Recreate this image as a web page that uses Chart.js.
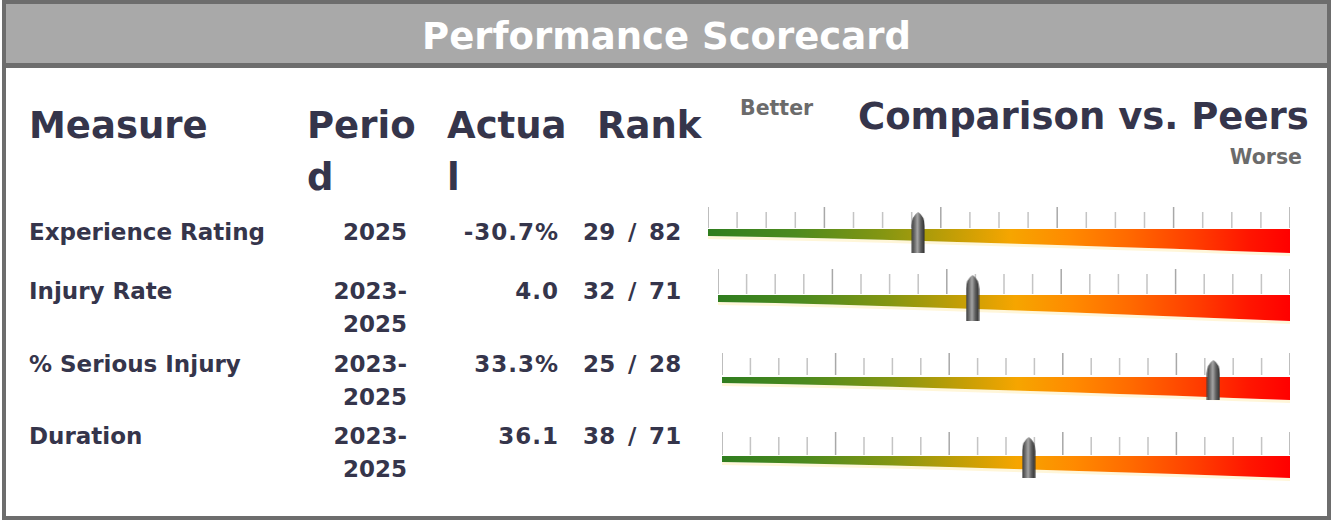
<!DOCTYPE html>
<html>
<head>
<meta charset="utf-8">
<script src="https://cdn.jsdelivr.net/npm/chart.js@4.4.1/dist/chart.umd.min.js"></script>
<style>
  html, body { margin:0; padding:0; background:#fff; width:1333px; height:520px; overflow:hidden; }
  body { font-family: "DejaVu Sans", sans-serif; font-weight:bold; color:#35354b; }
  #frame { position:absolute; left:2px; top:0; width:1321px; height:512px; border:4px solid #6d6d6d; }
  #titlebar { position:absolute; left:0; top:0; width:1321px; height:59px; background:#a9a9a9; border-bottom:5px solid #6d6d6d;
              color:#fff; font-size:37px; text-align:center; line-height:65px; }
  .t { position:absolute; white-space:nowrap; }
  .hdr { font-size:37px; line-height:52px; }
  .cell { font-size:23px; line-height:33px; }
  .num { letter-spacing:1px; }
  .rank { word-spacing:4px; letter-spacing:0.3px; }
  .r { text-align:right; }
  .note { font-size:20.5px; color:#6b6b6b; }
  canvas { position:absolute; }
</style>
</head>
<body>
<div id="frame"><div id="titlebar">Performance Scorecard</div></div>
<div id="page"></div>
<script>
// ---------- data ----------
const title = "Performance Scorecard";
const headers = ["Measure", "Perio\nd", "Actua\nl", "Rank"];
const measures = ["Experience Rating", "Injury Rate", "% Serious Injury", "Duration"];
const periods = ["2025", "2023-\n2025", "2023-\n2025", "2023-\n2025"];
const actuals = ["-30.7%", "4.0", "33.3%", "36.1"];
const ranks = [29, 32, 25, 38];
const peerCounts = [82, 71, 28, 71];
const markerPct = [36.1, 44.5, 86.5, 54.0];          // marker position on the peer gauge (0 = better, 100 = worse)
const tickPct = [0,5,10,15,20,25,30,35,40,45,50,55,60,65,70,75,80,85,90,95,100];
const majorTickPct = [0,20,40,60,80,100];

// ---------- layout (page pixels) ----------
const page = document.getElementById('page');
function addText(txt, cls, style) {
  const d = document.createElement('div');
  d.className = 't ' + cls;
  d.innerHTML = txt.split('\n').join('<br>');
  Object.assign(d.style, style);
  page.appendChild(d);
  return d;
}
addText(headers[0], 'hdr', {left:'29px', top:'100px'});
addText(headers[1], 'hdr', {left:'307px', top:'100px'});
addText(headers[2], 'hdr', {left:'447px', top:'100px'});
addText(headers[3], 'hdr', {left:'597px', top:'100px'});
addText('Comparison vs. Peers', 'hdr', {left:'858px', top:'91px'});
addText('Better', 'note', {left:'740px', top:'96px'});
addText('Worse', 'note r', {right:'31px', top:'145px'});

const rowTops = [216, 275, 348, 420];
rowTops.forEach((top, i) => {
  addText(measures[i], 'cell', {left:'29px', top: top+'px'});
  addText(periods[i], 'cell r', {right:(1333-407)+'px', top: top+'px'});
  addText(actuals[i], 'cell r num', {right:(1333-559)+'px', top: top+'px'});
  addText(ranks[i] + ' / ' + peerCounts[i], 'cell rank', {left:'583px', top: top+'px'});
});

// ---------- gauges ----------
const gauges = [
  {L:708, R:1290, majTop:207, minTop:212, tickBot:228, barTop:229, botL:236, botR:253, mTop:212, mBot:253},
  {L:718, R:1290, majTop:269, minTop:274, tickBot:294, barTop:295, botL:302, botR:321, mTop:275, mBot:321},
  {L:722, R:1290, majTop:353, minTop:358, tickBot:375, barTop:377, botL:383, botR:400, mTop:360, mBot:400},
  {L:722, R:1290, majTop:432, minTop:437, tickBot:455, barTop:456, botL:462, botR:478, mTop:437, mBot:478},
];
const profileX = [0,10,20,30,40,50,60,70,80,90,100];

function makeBullet(w, h) {
  const c = document.createElement('canvas');
  c.width = w; c.height = h;
  const g = c.getContext('2d');
  const grad = g.createLinearGradient(0, 0, w, 0);
  grad.addColorStop(0, '#333');
  grad.addColorStop(0.3, '#7a7a7a');
  grad.addColorStop(0.45, '#a6a6a6');
  grad.addColorStop(0.7, '#5c5c5c');
  grad.addColorStop(1, '#2a2a2a');
  g.fillStyle = grad;
  g.beginPath();
  g.moveTo(0.5, h);
  g.lineTo(0.5, 14);
  g.quadraticCurveTo(0.5, 4, w/2, 0);
  g.quadraticCurveTo(w-0.5, 4, w-0.5, 14);
  g.lineTo(w-0.5, h);
  g.closePath();
  g.fill();
  return c;
}

function barGradient(chart) {
  const a = chart.chartArea;
  if (!a) return '#f80';
  const g = chart.ctx.createLinearGradient(a.left, 0, a.right, 0);
  g.addColorStop(0.00, '#2f7d1f');
  g.addColorStop(0.15, '#4d8a1e');
  g.addColorStop(0.30, '#849612');
  g.addColorStop(0.42, '#c29e06');
  g.addColorStop(0.52, '#f6a500');
  g.addColorStop(0.62, '#ff8a00');
  g.addColorStop(0.72, '#ff6a00');
  g.addColorStop(0.84, '#ff3c00');
  g.addColorStop(0.93, '#ff1500');
  g.addColorStop(1.00, '#ff0000');
  return g;
}

gauges.forEach((gg, i) => {
  const cTop = gg.majTop - 8;
  const cH = gg.mBot - cTop + 6;
  const pad = 4;
  const cv = document.createElement('canvas');
  cv.width = gg.R - gg.L + 2*pad;
  cv.height = cH;
  cv.style.left = (gg.L - pad) + 'px';
  cv.style.top = cTop + 'px';
  cv.style.width = cv.width + 'px';
  cv.style.height = cH + 'px';
  page.appendChild(cv);

  const y = v => v - cTop;
  const thick = x => (gg.botL - gg.barTop) + (gg.botR - gg.botL) * Math.pow(x/100, 1.25);

  const topLine = profileX.map(x => ({x, y: y(gg.barTop)}));
  const botLine = profileX.map(x => ({x, y: y(gg.barTop) + thick(x)}));
  const fadeLine = profileX.map(x => ({x, y: y(gg.barTop) + thick(x) + 3}));

  const tickData = (list, topV) => {
    const out = [];
    list.forEach(p => { out.push({x:p, y:y(topV)}, {x:p, y:y(gg.tickBot)}, {x:p, y:null}); });
    return out;
  };
  const minors = tickPct.filter(p => !majorTickPct.includes(p));

  new Chart(cv, {
    type: 'line',
    data: {
      datasets: [
        { data: fadeLine, borderWidth:0, pointRadius:0, fill:'+1', backgroundColor:'rgba(255,236,170,0.45)', order:5 },
        { data: botLine, borderWidth:0, pointRadius:0, fill:false, order:4 },
        { data: topLine, borderWidth:0, pointRadius:0, fill:'-1', backgroundColor: ctx => barGradient(ctx.chart), order:3 },
        { data: tickData(minors, gg.minTop), borderColor:'#c4c4c4', borderWidth:1.5, pointRadius:0, spanGaps:false, fill:false, order:2 },
        { data: tickData(majorTickPct, gg.majTop), borderColor:'#a8a8a8', borderWidth:1.5, pointRadius:0, spanGaps:false, fill:false, order:1 },
        { data: [{x: markerPct[i], y: y((gg.mTop + gg.mBot)/2)}], showLine:false,
          pointStyle: makeBullet(14, gg.mBot - gg.mTop), pointRadius: 8, order:0, clip:false }
      ]
    },
    options: {
      responsive:false, animation:false, devicePixelRatio:1,
      layout:{ autoPadding:false, padding:{left:pad, right:pad, top:0, bottom:0} },
      plugins:{ legend:{display:false}, tooltip:{enabled:false} },
      scales:{
        x:{ type:'linear', min:0, max:100, display:false },
        y:{ type:'linear', min:0, max:cH, reverse:true, display:false }
      },
      elements:{ line:{ tension:0 } }
    }
  });
});
</script>
</body>
</html>
